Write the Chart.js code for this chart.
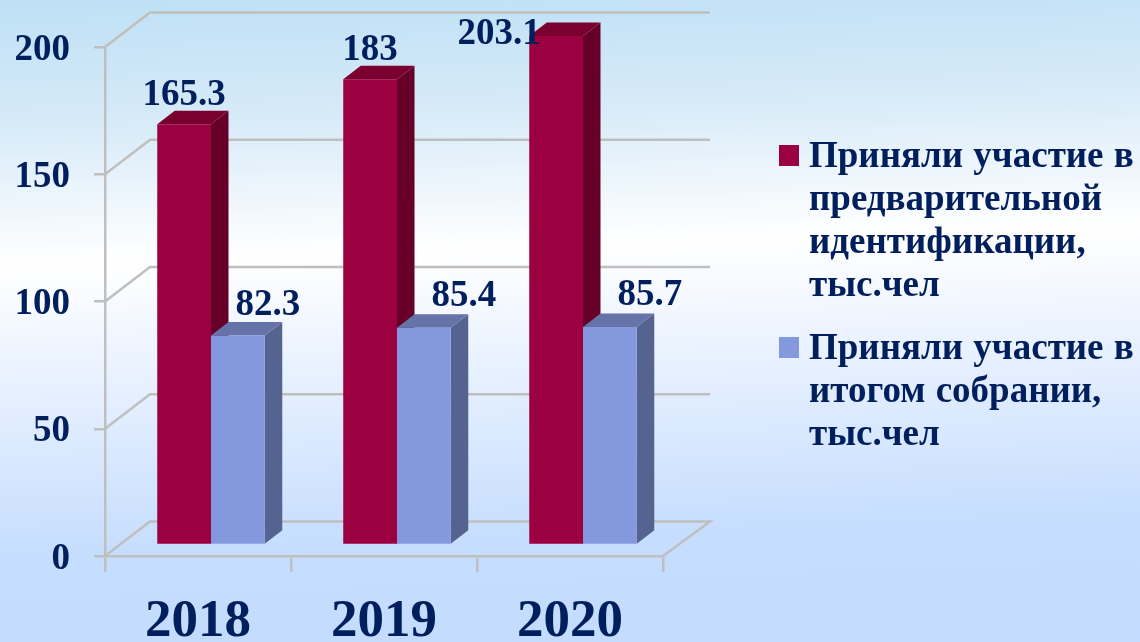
<!DOCTYPE html>
<html lang="ru">
<head>
<meta charset="utf-8">
<title>Участие</title>
<script src="https://cdn.jsdelivr.net/npm/chart.js@4/dist/chart.umd.min.js"></script>
<style>
    html, body { margin: 0; padding: 0; }
    body {
        width: 1140px;
        height: 642px;
        overflow: hidden;
        background: linear-gradient(178deg, #bee0f5 0%, #d6eaf8 18%, #ffffff 39%, #e3eeff 60%, #c5ddfe 82%, #c3dcff 100%);
    }
    canvas { display: block; }
</style>
</head>
<body>
<canvas id="chart" width="1140" height="642"></canvas>
<script>
    // Data
    var years = ["2018", "2019", "2020"];
    var identification = [165.3, 183, 203.1];
    var finalMeeting = [82.3, 85.4, 85.7];
    var yTicks = [0, 50, 100, 150, 200];
    var identificationLegend = ["Приняли участие в", "предварительной", "идентификации,", "тыс.чел"];
    var finalMeetingLegend = ["Приняли участие в", "итогом собрании,", "тыс.чел"];

    // Colors
    var textColor = "#001f5c";
    var gridColor = "#bfbfbd";
    var redFront = "#9b0040", redSide = "#660029", redTop = "#7a002f";
    var blueFront = "#8498de", blueSide = "#556390", blueTop = "#6673a8";

    // 3D look
    var wallX = 45, wallY = 34.5;
    var barDepthX = 17.5, barDepthY = 13.5;
    var barShiftX = 13, barShiftY = -11;
    var serif = "'Liberation Serif', 'Times New Roman', serif";

    // Moved labels, same as in the picture
    var redLabelShift = [[0, -19], [0, -19], [-57, 16]];
    var blueLabelShift = [[30, -21], [40, -22], [40, -22]];

    var walls = {
        id: "walls",
        beforeDatasetsDraw: function (chart) {
            var ctx = chart.ctx, area = chart.chartArea, y = chart.scales.y;
            ctx.save();
            ctx.strokeStyle = gridColor;
            ctx.lineWidth = 2.5;
            yTicks.forEach(function (v) {
                var py = y.getPixelForValue(v);
                ctx.beginPath();
                ctx.moveTo(area.left, py);
                ctx.lineTo(area.left + wallX, py - wallY);
                ctx.lineTo(area.right + wallX + 2, py - wallY);
                if (v === 0) {
                    ctx.lineTo(area.right, py);
                }
                ctx.stroke();
            });
            ctx.restore();

            // bars are shifted to the middle of the floor
            ctx.save();
            ctx.translate(barShiftX, barShiftY);
            drawBarSides(chart, 0, redSide, redTop);
            drawBarSides(chart, 1, blueSide, blueTop);
        },
        afterDatasetsDraw: function (chart) {
            chart.ctx.restore();
            drawLabels(chart, 0, identification, redLabelShift);
            drawLabels(chart, 1, finalMeeting, blueLabelShift);
            drawLegend(chart.ctx, 779, 145, redFront, identificationLegend, 167);
            drawLegend(chart.ctx, 779, 337, blueFront, finalMeetingLegend, 359);
        }
    };

    function drawBarSides(chart, index, sideColor, topColor) {
        var ctx = chart.ctx, area = chart.chartArea;
        chart.getDatasetMeta(index).data.forEach(function (bar) {
            var p = bar.getProps(["x", "y", "base", "width"], true);
            var left = p.x - p.width / 2, right = p.x + p.width / 2;
            var top = Math.max(p.y, area.top), bottom = p.base;

            ctx.fillStyle = sideColor;
            ctx.beginPath();
            ctx.moveTo(right, top);
            ctx.lineTo(right + barDepthX, top - barDepthY);
            ctx.lineTo(right + barDepthX, bottom - barDepthY);
            ctx.lineTo(right, bottom);
            ctx.closePath();
            ctx.fill();

            ctx.fillStyle = topColor;
            ctx.beginPath();
            ctx.moveTo(left, top);
            ctx.lineTo(left + barDepthX, top - barDepthY);
            ctx.lineTo(right + barDepthX, top - barDepthY);
            ctx.lineTo(right, top);
            ctx.closePath();
            ctx.fill();
        });
    }

    function drawLabels(chart, index, values, shifts) {
        var ctx = chart.ctx;
        ctx.save();
        ctx.font = "bold 37px " + serif;
        ctx.fillStyle = textColor;
        ctx.textAlign = "center";
        ctx.textBaseline = "alphabetic";
        chart.getDatasetMeta(index).data.forEach(function (bar, i) {
            var p = bar.getProps(["x", "y"], true);
            ctx.fillText(String(values[i]), p.x + barShiftX + shifts[i][0], p.y + barShiftY + shifts[i][1]);
        });
        ctx.restore();
    }

    function drawLegend(ctx, x, y, color, lines, firstBaseline) {
        ctx.save();
        ctx.fillStyle = color;
        ctx.fillRect(x, y, 20, 21);
        ctx.font = "bold 37px " + serif;
        ctx.fillStyle = textColor;
        ctx.textAlign = "left";
        ctx.textBaseline = "alphabetic";
        ctx.wordSpacing = "1px";
        lines.forEach(function (line, i) {
            ctx.fillText(line, x + 30, firstBaseline + i * 43);
        });
        ctx.restore();
    }

    new Chart(document.getElementById("chart"), {
        type: "bar",
        data: {
            labels: years,
            datasets: [
                { label: identificationLegend.join(" "), data: identification, backgroundColor: redFront },
                { label: finalMeetingLegend.join(" "), data: finalMeeting, backgroundColor: blueFront }
            ]
        },
        options: {
            responsive: false,
            animation: false,
            events: [],
            layout: { padding: { top: 47, right: 477, left: 0, bottom: 0 } },
            datasets: { bar: { barPercentage: 1, categoryPercentage: 0.578 } },
            plugins: {
                legend: { display: false },
                title: { display: false },
                tooltip: { enabled: false }
            },
            scales: {
                x: {
                    afterFit: function (scale) { scale.height = 86; },
                    grid: { color: gridColor, lineWidth: 2.5, drawOnChartArea: false, tickLength: 16 },
                    border: { color: gridColor, width: 2.5 },
                    ticks: {
                        color: textColor,
                        padding: 19,
                        maxRotation: 0,
                        font: { family: serif, size: 53, weight: "bold" }
                    }
                },
                y: {
                    min: 0,
                    max: 200,
                    afterFit: function (scale) { scale.width = 105; },
                    afterBuildTicks: function (scale) {
                        scale.ticks = yTicks.map(function (v) { return { value: v }; });
                    },
                    grid: { color: gridColor, lineWidth: 2.5, drawOnChartArea: false, tickLength: 11 },
                    border: { color: gridColor, width: 2.5 },
                    ticks: {
                        color: textColor,
                        padding: 24,
                        labelOffset: 3,
                        font: { family: serif, size: 37, weight: "bold" }
                    }
                }
            }
        },
        plugins: [walls]
    });
</script>
</body>
</html>
